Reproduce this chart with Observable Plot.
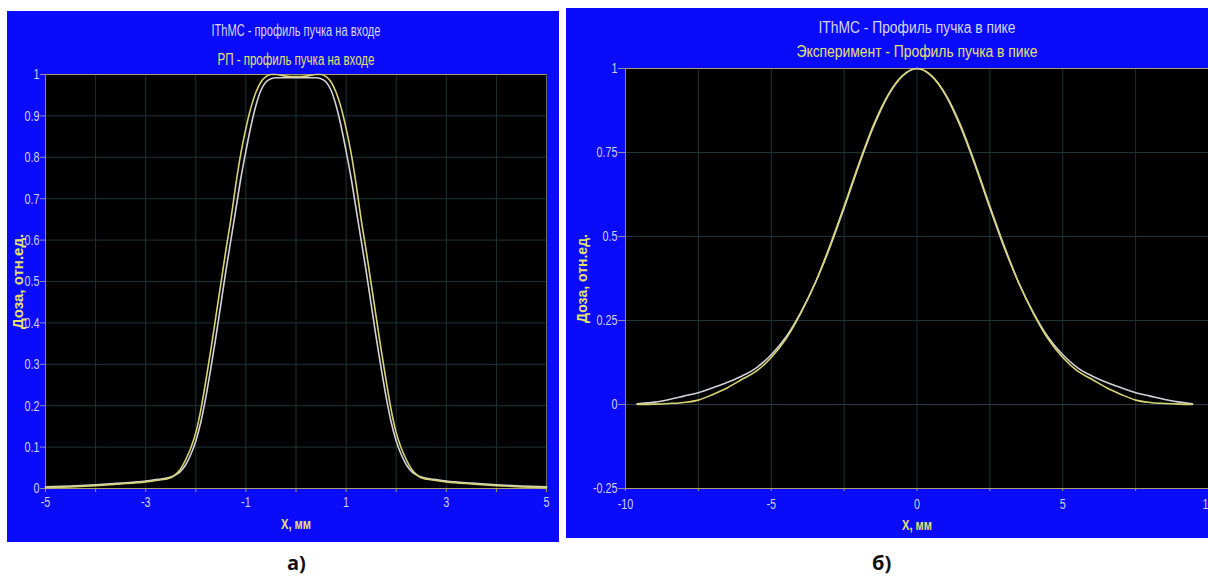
<!DOCTYPE html>
<html><head><meta charset="utf-8">
<script src="https://cdn.jsdelivr.net/npm/d3@7"></script>
<script src="https://cdn.jsdelivr.net/npm/@observablehq/plot@0.6"></script>
<style>
html,body{margin:0;padding:0;background:#fff;overflow:hidden;width:1208px;height:578px;position:relative;}
#pa,#pb{position:absolute;}
#pa{left:7px;top:11px;}
#pb{left:566px;top:8px;}
.lab{position:absolute;font-family:"Open Sans",sans-serif;font-weight:bold;font-size:20px;color:#111;line-height:1;}
</style></head><body>
<div id="pa"></div><div id="pb"></div>
<div class="lab" style="left:287px;top:553px">а)</div>
<div class="lab" style="left:872px;top:553px">б)</div>
<script>
// ---------- panel a) ----------
const titleA1 = "IThMC - профиль пучка на входе";
const titleA2 = "РП - профиль пучка на входе";
const xLabel = "X, мм";
const yLabel = "Доза, отн.ед.";
const leftX = [-5,-4.5,-4,-3.5,-3,-2.75,-2.5,-2.4,-2.3,-2.2,-2.1,-2,-1.9,-1.8,-1.7,-1.6,-1.5,-1.4,-1.3,-1.2,-1.1,-1,-0.9,-0.8,-0.7,-0.6,-0.5,-0.4,-0.3,-0.2,-0.1,0,0.1,0.2,0.3,0.4,0.5,0.6,0.7,0.8,0.9,1,1.1,1.2,1.3,1.4,1.5,1.6,1.7,1.8,1.9,2,2.1,2.2,2.3,2.4,2.5,2.75,3,3.5,4,4.5,5];
const leftIthmc = [0.004,0.006,0.009,0.013,0.018,0.022,0.028,0.033,0.042,0.058,0.082,0.115,0.16,0.22,0.29,0.365,0.445,0.525,0.6,0.675,0.75,0.815,0.875,0.925,0.962,0.982,0.99,0.992,0.992,0.992,0.992,0.992,0.992,0.992,0.992,0.992,0.99,0.982,0.962,0.925,0.875,0.815,0.75,0.675,0.6,0.525,0.445,0.365,0.29,0.22,0.16,0.115,0.082,0.058,0.042,0.033,0.028,0.022,0.018,0.013,0.009,0.006,0.004];
const leftRp = [0.002,0.004,0.007,0.011,0.016,0.02,0.026,0.034,0.048,0.07,0.098,0.135,0.19,0.26,0.335,0.415,0.495,0.575,0.65,0.735,0.81,0.87,0.92,0.957,0.982,0.995,1,1,0.998,0.996,0.995,0.995,0.995,0.996,0.998,1,1,0.995,0.982,0.957,0.92,0.87,0.81,0.735,0.65,0.575,0.495,0.415,0.335,0.26,0.19,0.135,0.098,0.07,0.048,0.034,0.026,0.02,0.016,0.011,0.007,0.004,0.002];
const leftXTicks = [-5,-3,-1,1,3,5];
const leftXMinor = [-4,-2,0,2,4];
const leftXGrid = [-5,-4,-3,-2,-1,0,1,2,3,4,5];
const leftYTicks = [0,0.1,0.2,0.3,0.4,0.5,0.6,0.7,0.8,0.9,1];
const leftYLabels = ["0","0.1","0.2","0.3","0.4","0.5","0.6","0.7","0.8","0.9","1"];

// ---------- panel б) ----------
const titleB1 = "IThMC - Профиль пучка в пике";
const titleB2 = "Эксперимент - Профиль пучка в пике";
const rightX = [-9.6,-9,-8.5,-8,-7.5,-7,-6.5,-6,-5.5,-5,-4.5,-4,-3.5,-3,-2.5,-2,-1.5,-1,-0.5,0,0.5,1,1.5,2,2.5,3,3.5,4,4.5,5,5.5,6,6.5,7,7.5,8,8.5,9,9.45];
const rightIthmc = [0.002,0.007,0.015,0.025,0.035,0.05,0.066,0.085,0.11,0.148,0.2,0.272,0.36,0.465,0.585,0.71,0.825,0.918,0.978,1,0.978,0.918,0.825,0.71,0.585,0.465,0.36,0.272,0.2,0.148,0.11,0.085,0.066,0.05,0.035,0.025,0.015,0.007,0.002];
const rightExp = [0,0.001,0.003,0.006,0.013,0.03,0.05,0.075,0.1,0.14,0.195,0.27,0.36,0.47,0.59,0.715,0.83,0.92,0.978,1,0.978,0.92,0.83,0.715,0.59,0.47,0.36,0.27,0.195,0.14,0.1,0.075,0.05,0.03,0.013,0.006,0.003,0.001,0];
const rightXTicks = [-10,-5,0,5,10];
const rightXMinor = [-7.5,-2.5,2.5,7.5];
const rightXGrid = [-10,-7.5,-5,-2.5,0,2.5,5,7.5,10];
const rightYTicks = [-0.25,0,0.25,0.5,0.75,1];
const rightYLabels = ["-0.25","0","0.25","0.5","0.75","1"];

const BLUE = "#0b0bfb", GRID = "#1d3535", TICKTXT = "#cfcfe6", YEL = "#e4e070", WHITE = "#d2d2d8", YLINE = "#d8d474";
const FONT = "'Liberation Sans',Arial,sans-serif";

function panel(c) {
  return Plot.plot({
    width: c.width, height: c.height,
    marginLeft: c.ml, marginRight: c.mr, marginTop: c.mt, marginBottom: c.mb,
    style: {background: BLUE, fontFamily: FONT, fontSize: "15px", color: TICKTXT, overflow: "visible"},
    x: {domain: c.xDomain, label: null},
    y: {domain: c.yDomain, label: null},
    marks: [
      Plot.frame({fill: "black", stroke: null}),
      Plot.gridX(c.xGrid, {stroke: GRID, strokeOpacity: 1}),
      Plot.gridY(c.yTicks, {stroke: GRID, strokeOpacity: 1}),
      c.zeroLine ? Plot.ruleY([0], {stroke: "#2a4040"}) : null,
      Plot.frame({anchor: "top", stroke: "#a8a068"}),
      Plot.frame({anchor: "right", stroke: "#6a6a60"}),
      Plot.frame({anchor: "bottom", stroke: "#a8a068"}),
      Plot.frame({anchor: "left", stroke: "#8a8aa0"}),
      Plot.axisX(c.xTicks, {tickSize: c.xTickSize, tickPadding: c.xPad, stroke: "#a8a068", fill: TICKTXT, tickFormat: d => String(d), fontSize: 15}),
      Plot.axisX(c.xMinor, {tickSize: c.xTickSize, stroke: "#a8a068", tickFormat: () => ""}),
      Plot.axisY(c.yTicks, {tickSize: c.yTickSize, tickPadding: 1, stroke: "#8a8aa0", fill: TICKTXT, tickFormat: (d, i) => c.yLabels[i], fontSize: 15}),
      Plot.lineY(c.white, {x: c.xs, stroke: WHITE, strokeWidth: 1.6, curve: "monotone-x"}),
      Plot.lineY(c.yellow, {x: c.xs, stroke: YLINE, strokeWidth: 1.6, curve: "monotone-x"}),
      Plot.text([c.t1], {text: d => d, frameAnchor: "top", lineAnchor: "middle", dy: c.t1dy, fill: "#d6d6f2", fontSize: 16}),
      Plot.text([c.t2], {text: d => d, frameAnchor: "top", lineAnchor: "middle", dy: c.t2dy, fill: YEL, fontSize: 16}),
      Plot.text([xLabel], {text: d => d, frameAnchor: "bottom", lineAnchor: "middle", dy: c.xldy, fill: YEL, fontSize: 15, fontWeight: "bold"}),
      Plot.text([yLabel], {text: d => d, frameAnchor: "left", textAnchor: "middle", lineAnchor: "middle", dx: c.yldx, rotate: -90, fill: YEL, fontSize: c.ylfs, fontWeight: "bold"})
    ]
  });
}

function condense(svg, c) {
  svg.querySelectorAll("text").forEach(t => {
    const s = t.textContent;
    if (!s || s === yLabel) return;
    const len = t.getComputedTextLength();
    let target = len * 0.72;
    if (s === c.t1) target = c.t1w;
    else if (s === c.t2) target = c.t2w;
    else if (s === xLabel) target = 30;
    t.setAttribute("textLength", target.toFixed(1));
    t.setAttribute("lengthAdjust", "spacingAndGlyphs");
  });
}

const cfgA = {
  width: 552, height: 531, ml: 38, mr: 13, mt: 63, mb: 54,
  xDomain: [-5, 5], yDomain: [0, 1],
  xGrid: leftXGrid, yTicks: leftYTicks, yLabels: leftYLabels, xTicks: leftXTicks, xMinor: leftXMinor,
  xTickSize: 4, xPad: 4, yTickSize: 5, zeroLine: false,
  xs: leftX, white: leftIthmc, yellow: leftRp,
  t1: titleA1, t2: titleA2, t1w: 169, t2w: 157, t1dy: -44, t2dy: -15, xldy: 36, yldx: -27, ylfs: 15
};
const cfgB = {
  width: 642, height: 530, ml: 59, mr: 0, mt: 60, mb: 50,
  xDomain: [-10, 10], yDomain: [-0.25, 1],
  xGrid: rightXGrid, yTicks: rightYTicks, yLabels: rightYLabels, xTicks: rightXTicks, xMinor: rightXMinor,
  xTickSize: 3, xPad: 7, yTickSize: 7, zeroLine: true,
  xs: rightX, white: rightIthmc, yellow: rightExp,
  t1: titleB1, t2: titleB2, t1w: 197, t2w: 241, t1dy: -41, t2dy: -17, xldy: 37, yldx: -43, ylfs: 14
};
const svgA = panel(cfgA), svgB = panel(cfgB);
document.getElementById("pa").append(svgA);
document.getElementById("pb").append(svgB);
condense(svgA, cfgA);
condense(svgB, cfgB);
</script>
</body></html>
